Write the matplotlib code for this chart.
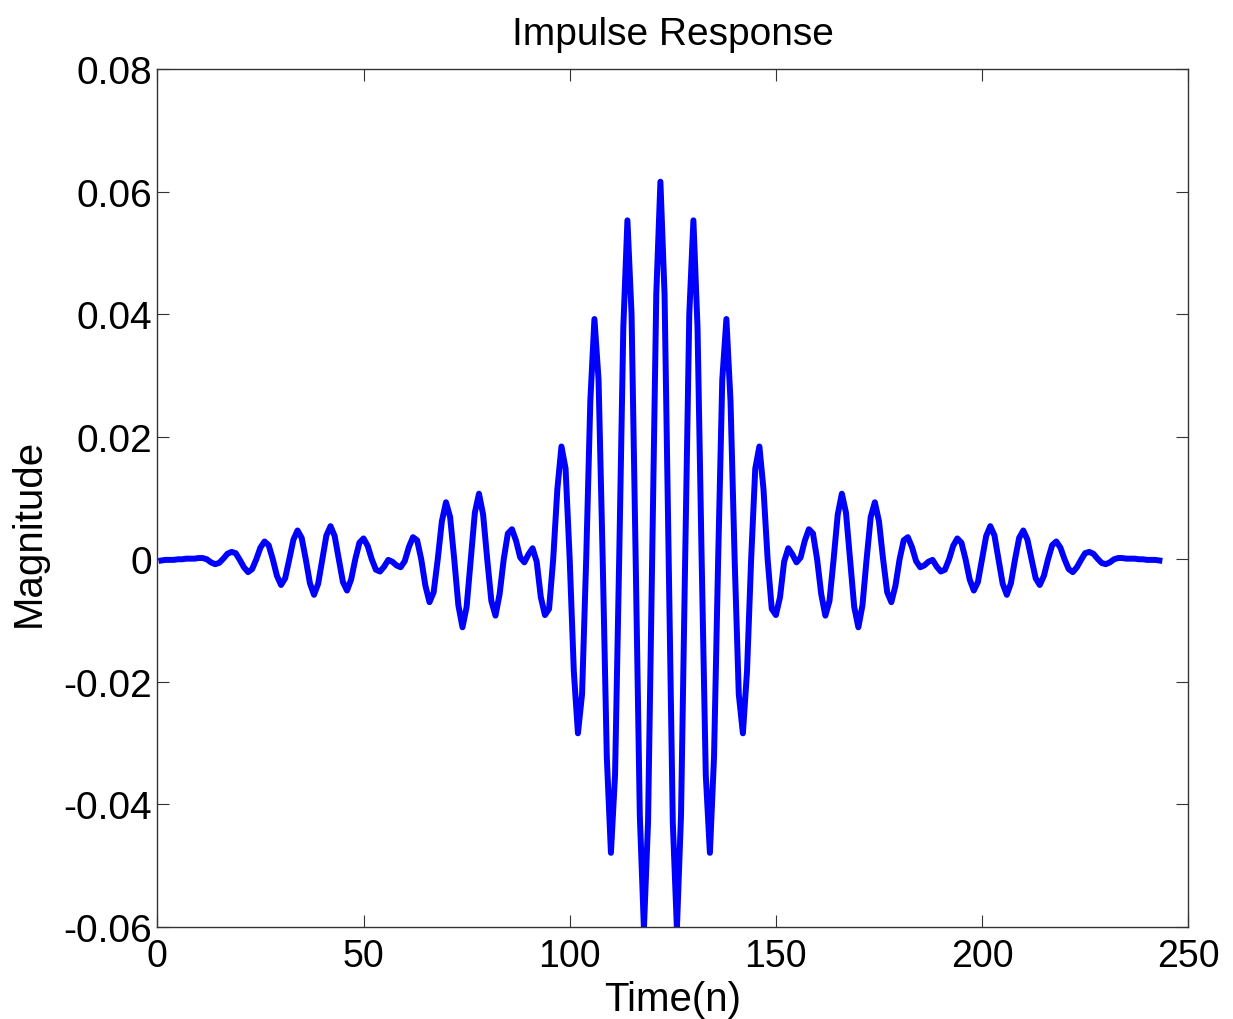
import numpy as np
import matplotlib
matplotlib.use("Agg")
import matplotlib.pyplot as plt

# impulse response samples (n = 1..243)
magnitude = [
    -0.0002, -0.0001, -0.0001, -0.0001, 0.0000, 0.0000, 0.0001, 0.0001,
    0.0001, 0.0002, 0.0002, 0.0000, -0.0005, -0.0008, -0.0006, 0.0001,
    0.0009, 0.0012, 0.0010, -0.0001, -0.0013, -0.0021, -0.0016, 0.0000,
    0.0019, 0.0029, 0.0023, 0.0000, -0.0027, -0.0042, -0.0031, 0.0000,
    0.0032, 0.0047, 0.0035, 0.0000, -0.0039, -0.0058, -0.0040, 0.0000,
    0.0039, 0.0054, 0.0038, 0.0000, -0.0037, -0.0051, -0.0033, 0.0000,
    0.0027, 0.0034, 0.0022, 0.0000, -0.0017, -0.0020, -0.0012, -0.0001,
    -0.0004, -0.0010, -0.0013, -0.0003, 0.0020, 0.0036, 0.0031, 0.0000,
    -0.0043, -0.0070, -0.0054, 0.0000, 0.0062, 0.0093, 0.0069, 0.0000,
    -0.0075, -0.0111, -0.0078, 0.0000, 0.0076, 0.0107, 0.0073, 0.0000,
    -0.0068, -0.0092, -0.0057, 0.0000, 0.0042, 0.0049, 0.0030, 0.0003,
    -0.0005, 0.0008, 0.0018, -0.0004, -0.0062, -0.0091, -0.0081, 0.0000,
    0.0114, 0.0184, 0.0148, 0.0000, -0.0183, -0.0284, -0.0220, 0.0000,
    0.0258, 0.0392, 0.0293, 0.0000, -0.0323, -0.0479, -0.0352, 0.0000,
    0.0378, 0.0553, 0.0400, 0.0000, -0.0417, -0.0603, -0.0429, 0.0000,
    0.0433, 0.0616,
    0.0433, 0.0000, -0.0429, -0.0603, -0.0417, 0.0000, 0.0400, 0.0553,
    0.0378, 0.0000, -0.0352, -0.0479, -0.0323, 0.0000, 0.0293, 0.0392,
    0.0258, 0.0000, -0.0220, -0.0284, -0.0183, 0.0000, 0.0148, 0.0184,
    0.0114, 0.0000, -0.0081, -0.0091, -0.0062, -0.0004, 0.0018, 0.0008,
    -0.0005, 0.0003, 0.0030, 0.0049, 0.0042, 0.0000, -0.0057, -0.0092,
    -0.0068, 0.0000, 0.0073, 0.0107, 0.0076, 0.0000, -0.0078, -0.0111,
    -0.0075, 0.0000, 0.0069, 0.0093, 0.0062, 0.0000, -0.0054, -0.0070,
    -0.0043, 0.0000, 0.0031, 0.0036, 0.0020, -0.0003, -0.0013, -0.0010,
    -0.0004, -0.0001, -0.0012, -0.0020, -0.0017, 0.0000, 0.0022, 0.0034,
    0.0027, 0.0000, -0.0033, -0.0051, -0.0037, 0.0000, 0.0038, 0.0054,
    0.0039, 0.0000, -0.0040, -0.0058, -0.0039, 0.0000, 0.0035, 0.0047,
    0.0032, 0.0000, -0.0031, -0.0042, -0.0027, 0.0000, 0.0023, 0.0029,
    0.0019, 0.0000, -0.0016, -0.0021, -0.0013, -0.0001, 0.0010, 0.0012,
    0.0009, 0.0001, -0.0006, -0.0008, -0.0005, 0.0000, 0.0002, 0.0002,
    0.0001, 0.0001, 0.0001, 0.0000, 0.0000, -0.0001, -0.0001, -0.0001,
    -0.0002,
]
time = np.arange(1, len(magnitude) + 1)

x_ticks = [0, 50, 100, 150, 200, 250]
y_ticks = [-0.06, -0.04, -0.02, 0, 0.02, 0.04, 0.06, 0.08]
y_tick_labels = ["-0.06", "-0.04", "-0.02", "0", "0.02", "0.04", "0.06", "0.08"]

plt.rcParams["font.family"] = ["Liberation Sans", "DejaVu Sans"]

fig = plt.figure(figsize=(12.33, 10.2), dpi=100)
ax = fig.add_axes([0.1276, 0.0902, 0.8361, 0.8412])

ax.plot(time, magnitude, color="#0000ff", linewidth=4.3)

ax.set_xlim(0, 250)
ax.set_ylim(-0.06, 0.08)
ax.set_xticks(x_ticks)
ax.set_xticklabels([str(t) for t in x_ticks])
ax.set_yticks(y_ticks)
ax.set_yticklabels(y_tick_labels)

# matlab-style ticks: inward, on all four sides
ax.tick_params(direction="in", length=8.5, width=0.8, color="#333333",
               top=True, right=True)
ax.tick_params(axis="x", labelsize=27, pad=8)
ax.tick_params(axis="y", labelsize=28, pad=4)
for s in ax.spines.values():
    s.set_linewidth(1.0)
    s.set_color("#333333")

ax.set_title("Impulse Response", fontsize=28, pad=18)
ax.set_xlabel("Time(n)", fontsize=29, labelpad=4)
ax.set_ylabel("Magnitude", fontsize=29)
ax.yaxis.set_label_coords(-0.106, 0.46)

fig.savefig("out.png", dpi=100)
